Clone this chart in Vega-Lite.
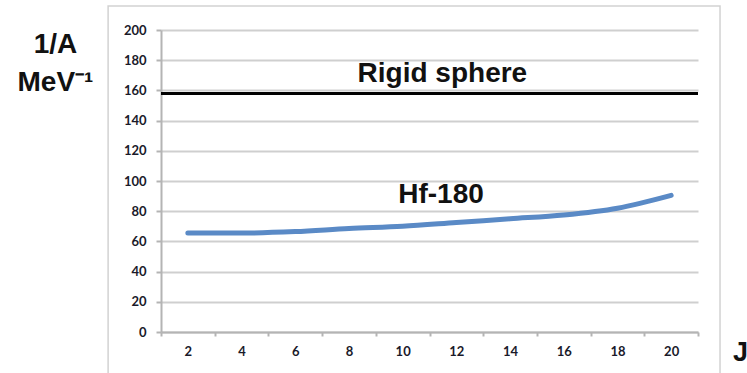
{
  "$schema": "https://vega.github.io/schema/vega-lite/v6.json",
  "width": 537,
  "height": 302,
  "autosize": {"type": "none"},
  "padding": {"left": 161, "top": 30, "right": 49, "bottom": 41},
  "background": "white",
  "config": {"view": {"stroke": null}},
  "datasets": {
    "hf": [
      {"J": 2, "inv": 65.5},
      {"J": 4, "inv": 65.5},
      {"J": 6, "inv": 66.5},
      {"J": 8, "inv": 68.5},
      {"J": 10, "inv": 70},
      {"J": 12, "inv": 72.5},
      {"J": 14, "inv": 75},
      {"J": 16, "inv": 77.5},
      {"J": 18, "inv": 82},
      {"J": 20, "inv": 90.5}
    ],
    "rigid": [{"J": 1, "J2": 21, "inv": 158}],
    "labels": [
      {"label": "Rigid sphere", "J": 11.48, "inv": 165.6},
      {"label": "Hf-180", "J": 11.43, "inv": 85.4}
    ],
    "frame": [{"J": -0.97, "J2": 21.82, "inv": -30, "inv2": 215.9}]
  },
  "encoding": {
    "x": {
      "field": "J", "type": "quantitative",
      "scale": {"domain": [1, 21], "nice": false, "zero": false},
      "axis": {
        "values": [1,2,3,4,5,6,7,8,9,10,11,12,13,14,15,16,17,18,19,20,21],
        "labelExpr": "datum.value % 2 == 0 ? datum.label : ''",
        "labelOverlap": false,
        "tickOpacity": {"condition": {"test": "datum.value % 2 == 0", "value": 0}, "value": 1},
        "grid": false,
        "domainColor": "#b4b4b4",
        "domainWidth": 2,
        "tickColor": "#b4b4b4",
        "tickWidth": 2,
        "tickSize": 4,
        "labelPadding": 9,
        "labelFont": "Lato",
        "labelFontSize": 13,
        "labelFontWeight": "bold",
        "labelColor": "#1a1a2a",
        "labelFlush": false,
        "title": "J",
        "titleFont": "Liberation Sans",
        "titleFontSize": 27,
        "titleFontWeight": "bold",
        "titleColor": "#111",
        "titleX": 579,
        "titleY": 28,
        "titleAlign": "center",
        "titleBaseline": "alphabetic"
      }
    },
    "y": {
      "field": "inv", "type": "quantitative",
      "scale": {"domain": [0, 200], "nice": false},
      "axis": {
        "values": [0,20,40,60,80,100,120,140,160,180,200],
        "labelOverlap": false,
        "grid": true,
        "gridColor": "#cfcfcf",
        "gridWidth": 2,
        "domainColor": "#b4b4b4",
        "domainWidth": 2,
        "tickColor": "#b4b4b4",
        "tickWidth": 2,
        "tickSize": 5,
        "labelPadding": 10,
        "labelFont": "Lato",
        "labelFontSize": 13,
        "labelFontWeight": "bold",
        "labelColor": "#1a1a2a",
        "title": ["1/A", "MeV⁻¹"],
        "titleFont": "Liberation Sans",
        "titleFontSize": 28,
        "titleFontWeight": "bold",
        "titleColor": "#111",
        "titleAngle": 0,
        "titleX": -106,
        "titleY": 22,
        "titleAlign": "center",
        "titleBaseline": "alphabetic",
        "titleLineHeight": 38
      }
    }
  },
  "layer": [
    {
      "data": {"name": "frame"},
      "mark": {"type": "rect", "fill": null, "stroke": "#d2d2d2", "strokeWidth": 1.5},
      "encoding": {
        "x2": {"field": "J2"},
        "y2": {"field": "inv2"}
      }
    },
    {
      "data": {"name": "rigid"},
      "mark": {"type": "rule", "color": "black", "strokeWidth": 3},
      "encoding": {
        "x2": {"field": "J2"}
      }
    },
    {
      "data": {"name": "hf"},
      "mark": {"type": "line", "color": "#5a8ac6", "strokeWidth": 5, "strokeCap": "round", "interpolate": "monotone"}
    },
    {
      "data": {"name": "labels"},
      "mark": {"type": "text", "font": "Liberation Sans", "fontSize": 28, "fontWeight": "bold", "color": "#111", "align": "center", "baseline": "alphabetic"},
      "encoding": {
        "text": {"field": "label"}
      }
    }
  ]
}
